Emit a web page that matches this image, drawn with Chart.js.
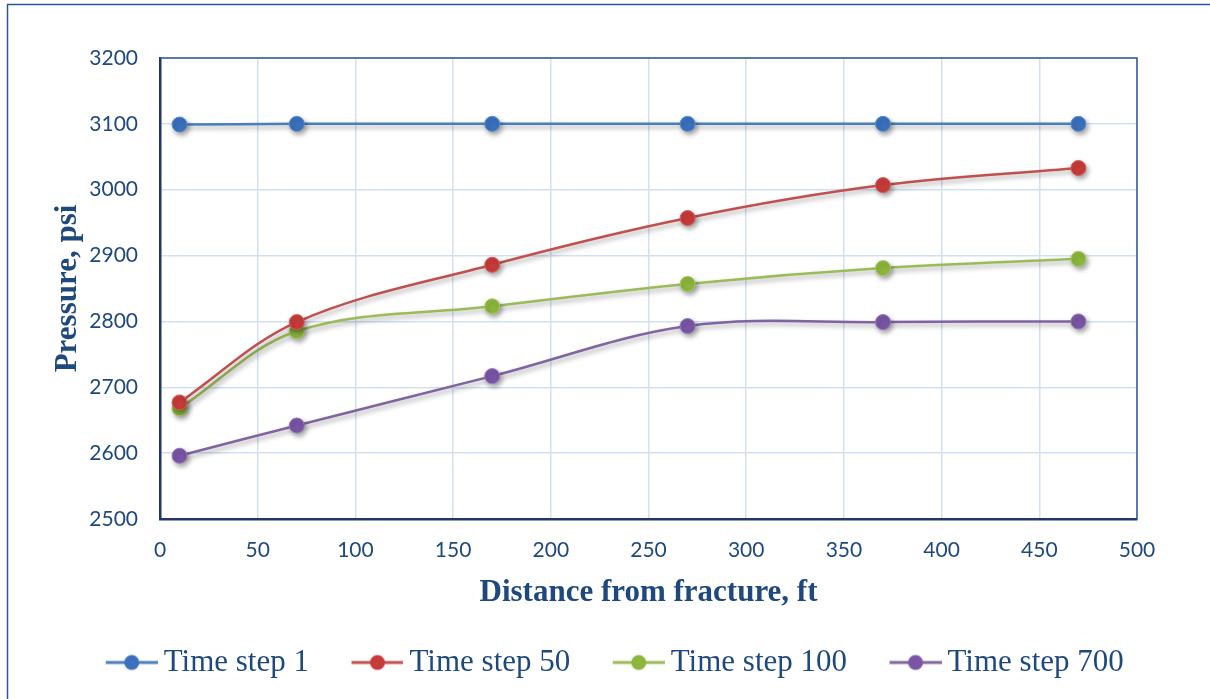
<!DOCTYPE html>
<html>
<head>
<meta charset="utf-8">
<script src="https://cdn.jsdelivr.net/npm/chart.js@4/dist/chart.umd.min.js"></script>
<style>
html,body{margin:0;padding:0;background:#fff;overflow:hidden;}
#wrap{position:relative;width:1210px;height:699px;}
</style>
</head>
<body>
<div id="wrap"><canvas id="c" width="1210" height="699"></canvas></div>
<script>
const distances = [10, 70, 170, 270, 370, 470];
const seriesNames = ['Time step 1', 'Time step 50', 'Time step 100', 'Time step 700'];
const step1 = [3099, 3100, 3100, 3100, 3100, 3100];
const step50 = [2677, 2799, 2886, 2957, 3007, 3033];
const step100 = [2668, 2785, 2823, 2857, 2881, 2895];
const step700 = [2596, 2642, 2717, 2793, 2799, 2800];
const xTicks = [0, 50, 100, 150, 200, 250, 300, 350, 400, 450, 500];
const yTicks = [2500, 2600, 2700, 2800, 2900, 3000, 3100, 3200];

const lineColors = ['#4a7ebb', '#c0504d', '#9bbb59', '#8064a2'];
const markerColors = ['#3a70bd', '#c63b3a', '#8cb63c', '#7a55a6'];
const markerBorders = ['#5b8fd0', '#d65f5c', '#a9cc62', '#9479ba'];

const ICON_BOX = 75;
function legendIcon(i) {
  const cv = document.createElement('canvas');
  cv.width = 94; cv.height = 20;
  const g = cv.getContext('2d');
  g.strokeStyle = lineColors[i]; g.lineWidth = 3;
  g.beginPath(); g.moveTo(42, 10); g.lineTo(94, 10); g.stroke();
  g.fillStyle = markerColors[i];
  g.beginPath(); g.arc(68, 10, 7.5, 0, Math.PI * 2); g.fill();
  return cv;
}

const allSeries = [step1, step50, step100, step700];
const datasets = allSeries.map((vals, i) => ({
  label: seriesNames[i],
  data: distances.map((d, k) => ({ x: d, y: vals[k] })),
  borderColor: lineColors[i],
  backgroundColor: markerColors[i],
  pointBackgroundColor: markerColors[i],
  pointBorderColor: markerBorders[i],
  pointBorderWidth: 1,
  pointRadius: 7.5,
  pointHoverRadius: 7.5,
  borderWidth: 2.5,
  tension: 0.35,
  pointStyle: 'circle',
  fill: false
}));

const frame = {
  id: 'frame',
  beforeDraw(chart) {
    const ctx = chart.ctx;
    ctx.save();
    ctx.fillStyle = '#fff';
    ctx.fillRect(0, 0, chart.width, chart.height);
    ctx.strokeStyle = '#2f5597';
    ctx.lineWidth = 1.5;
    ctx.beginPath();
    ctx.moveTo(7.5, 699); ctx.lineTo(7.5, 4.5); ctx.lineTo(1210, 4.5);
    ctx.stroke();
    ctx.restore();
  },
  afterDraw(chart) {
    const a = chart.chartArea;
    const ctx = chart.ctx;
    ctx.save();
    ctx.strokeStyle = '#2e5596';
    ctx.lineWidth = 1.5;
    ctx.beginPath();
    ctx.moveTo(a.left, a.top); ctx.lineTo(a.right, a.top); ctx.lineTo(a.right, a.bottom);
    ctx.stroke();
    ctx.restore();
  },
  beforeDatasetDraw(chart) {
    const ctx = chart.ctx;
    ctx.save();
    ctx.shadowColor = 'rgba(0,0,0,0.35)';
    ctx.shadowBlur = 5;
    ctx.shadowOffsetX = 2;
    ctx.shadowOffsetY = 3;
  },
  afterDatasetDraw(chart) {
    chart.ctx.restore();
  }
};

const textColor = '#1f497d';
const plain = v => String(v);

new Chart(document.getElementById('c'), {
  type: 'line',
  data: { datasets },
  plugins: [frame],
  options: {
    responsive: false,
    animation: false,
    events: [],
    layout: { padding: { left: 60, right: 73, top: 58, bottom: 11 } },
    plugins: {
      tooltip: { enabled: false },
      legend: {
        position: 'bottom',
        labels: {
          usePointStyle: true,
          pointStyleWidth: ICON_BOX,
          boxHeight: 20,
          padding: 10,
          color: textColor,
          font: { family: '"Liberation Serif", serif', size: 31 },
          generateLabels(chart) {
            return chart.data.datasets.map((ds, i) => ({
              text: ds.label,
              pointStyle: legendIcon(i),
              fillStyle: markerColors[i],
              strokeStyle: lineColors[i],
              lineWidth: 0,
              fontColor: textColor,
              datasetIndex: i,
              hidden: false
            }));
          }
        }
      }
    },
    scales: {
      x: {
        type: 'linear',
        min: 0, max: 500,
        afterBuildTicks(scale) { scale.ticks = xTicks.map(v => ({ value: v })); },
        afterFit(scale) { scale.height = 118; },
        grid: { color: '#d3e0f1', lineWidth: 1.5, drawTicks: false },
        border: { color: '#1f3864', width: 2.5 },
        ticks: { padding: 19, color: textColor, font: { family: 'Lato', size: 21 }, callback: plain },
        title: {
          display: true,
          text: 'Distance from fracture, ft',
          color: textColor,
          font: { family: '"Liberation Serif", serif', size: 31, weight: 'bold' },
          padding: { top: 4, bottom: 25 }
        }
      },
      y: {
        type: 'linear',
        min: 2500, max: 3200,
        afterBuildTicks(scale) { scale.ticks = yTicks.map(v => ({ value: v })); },
        afterFit(scale) { scale.width = 100; },
        grid: { color: '#d3e0f1', lineWidth: 1.5, drawTicks: false },
        border: { color: '#1f3864', width: 2.5 },
        ticks: { padding: 22, color: textColor, font: { family: 'Lato', size: 21 }, callback: plain },
        title: {
          display: true,
          text: 'Pressure, psi',
          color: textColor,
          font: { family: '"Liberation Serif", serif', size: 31, weight: 'bold' },
          padding: { top: -11, bottom: 0 }
        }
      }
    }
  }
});
</script>
</body>
</html>
